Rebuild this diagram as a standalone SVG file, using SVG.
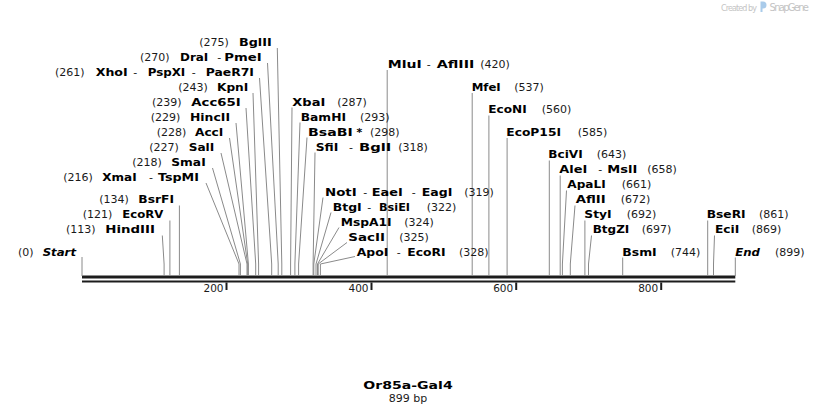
<svg xmlns="http://www.w3.org/2000/svg" width="818" height="415" viewBox="0 0 818 415">
<style>
.n{font-family:"DejaVu Sans",Verdana,sans-serif;font-weight:bold;font-size:11px;fill:#000}
.i{font-style:italic}
.p{font-family:"DejaVu Sans",Verdana,sans-serif;font-size:11px;fill:#1a1a1a}
.t{font-family:"DejaVu Sans",Verdana,sans-serif;font-size:10.5px;fill:#1a1a1a;text-anchor:end}
.l{stroke:#8a8a8a;stroke-width:1;fill:none}
.bb{fill:#1c1c1c}
.wm{font-family:"DejaVu Sans",Verdana,sans-serif;fill:#c4c4c4}
</style>
<rect width="818" height="415" fill="#fff"/>
<g id="watermark">
<text class="wm" x="721" y="10.5" font-size="8" textLength="36">Created by</text>
<path d="M760.5,1.5 h2.5 a3.5,3.5 0 0 1 0,7 h-0.5 v3.5 h-2 z" fill="#a9cbea"/>
<text class="wm" x="769.5" y="11" font-size="10" textLength="39.5">SnapGene</text>
</g>
<g id="backbone">
<rect class="bb" x="82" y="275.5" width="653.3" height="3"/>
<rect class="bb" x="82" y="280.5" width="653.3" height="2"/>
<g stroke="#1c1c1c" stroke-width="2">
<line x1="226.5" y1="282.5" x2="226.5" y2="290"/>
<line x1="371.5" y1="282.5" x2="371.5" y2="290"/>
<line x1="516.2" y1="282.5" x2="516.2" y2="290"/>
<line x1="661.2" y1="282.5" x2="661.2" y2="290"/>
</g>
<text class="t" x="223.5" y="292">200</text>
<text class="t" x="368.5" y="292">400</text>
<text class="t" x="513.2" y="292">600</text>
<text class="t" x="658.2" y="292">800</text>
</g>
<g id="connectors" class="l">
<path d="M277.3,48 L281.8,264 V276"/>
<path d="M267.5,63 L278.2,264 V276"/>
<path d="M259.5,78 L271.7,264 V276"/>
<path d="M253,93 L258.6,264 V276"/>
<path d="M246,108 L255.7,264 V276"/>
<path d="M236,123 L248.4,264 V276"/>
<path d="M229.5,138 L247.7,264 V276"/>
<path d="M221,153 L247,264 V276"/>
<path d="M212.5,168 L240.4,264 V276"/>
<path d="M206,183 L239,264 V276"/>
<path d="M179.4,205.5 V276"/>
<path d="M169.9,220.5 V276"/>
<path d="M162.3,235.5 L164.1,264 V276"/>
<path d="M82,257 V276"/>
<path d="M292,107.5 L290.6,264 V276"/>
<path d="M300,122.5 L294.9,264 V276"/>
<path d="M307,137.5 L298.6,264 V276"/>
<path d="M315,152.5 L313.1,264 V276"/>
<path d="M323,197.5 L313.8,264 V276"/>
<path d="M331,212.5 L316,264 V276"/>
<path d="M339,227.5 L317.5,264 V276"/>
<path d="M347,242.5 L318.2,264 V276"/>
<path d="M355,256.5 L320.4,264 V276"/>
<path d="M387.2,70 V276"/>
<path d="M472.2,93 V276"/>
<path d="M488.9,115.5 V276"/>
<path d="M507.1,138 V276"/>
<path d="M549.3,160.5 V276"/>
<path d="M560.2,175.5 V276"/>
<path d="M566.5,190.5 L562.4,264 V276"/>
<path d="M575,205.5 L570.3,264 V276"/>
<path d="M584.9,220.5 V276"/>
<path d="M591.5,235.5 L588.5,264 V276"/>
<path d="M622.7,257.5 V276"/>
<path d="M707.7,220.5 V276"/>
<path d="M714.5,235.5 L713.5,264 V276"/>
<path d="M735.3,257.5 V276"/>
</g>
<g id="BglII"><text class="p" x="199.3" y="45.5">(275)</text><text class="n" x="239" y="45.5" textLength="32.7" lengthAdjust="spacingAndGlyphs">BglII</text></g>
<g id="DraI"><text class="p" x="140" y="60.5">(270)</text><text class="n" x="180" y="60.5" textLength="28.3" lengthAdjust="spacingAndGlyphs">DraI</text><text class="p" x="217.3" y="60.5">-</text><text class="n" x="224.3" y="60.5" textLength="37.4" lengthAdjust="spacingAndGlyphs">PmeI</text></g>
<g id="XhoI"><text class="p" x="55" y="75.5">(261)</text><text class="n" x="95.7" y="75.5" textLength="32" lengthAdjust="spacingAndGlyphs">XhoI</text><text class="p" x="133.3" y="75.5">-</text><text class="n" x="147.7" y="75.5" textLength="37.6" lengthAdjust="spacingAndGlyphs">PspXI</text><text class="p" x="191.7" y="75.5">-</text><text class="n" x="205.7" y="75.5" textLength="48.3" lengthAdjust="spacingAndGlyphs">PaeR7I</text></g>
<g id="KpnI"><text class="p" x="178.3" y="90.5">(243)</text><text class="n" x="217" y="90.5" textLength="31.3" lengthAdjust="spacingAndGlyphs">KpnI</text></g>
<g id="Acc65I"><text class="p" x="152" y="105.5">(239)</text><text class="n" x="191.3" y="105.5" textLength="49.4" lengthAdjust="spacingAndGlyphs">Acc65I</text></g>
<g id="HincII"><text class="p" x="150.7" y="120.5">(229)</text><text class="n" x="190" y="120.5" textLength="40" lengthAdjust="spacingAndGlyphs">HincII</text></g>
<g id="AccI"><text class="p" x="156.7" y="135.5">(228)</text><text class="n" x="195" y="135.5" textLength="28.3" lengthAdjust="spacingAndGlyphs">AccI</text></g>
<g id="SalI"><text class="p" x="149.3" y="150.5">(227)</text><text class="n" x="188.7" y="150.5" textLength="25.6" lengthAdjust="spacingAndGlyphs">SalI</text></g>
<g id="SmaI"><text class="p" x="132.3" y="165.5">(218)</text><text class="n" x="171.3" y="165.5" textLength="34.4" lengthAdjust="spacingAndGlyphs">SmaI</text></g>
<g id="XmaI"><text class="p" x="63.3" y="180.5">(216)</text><text class="n" x="102.3" y="180.5" textLength="34.4" lengthAdjust="spacingAndGlyphs">XmaI</text><text class="p" x="149" y="180.5">-</text><text class="n" x="158" y="180.5" textLength="41" lengthAdjust="spacingAndGlyphs">TspMI</text></g>
<g id="BsrFI"><text class="p" x="99.3" y="203">(134)</text><text class="n" x="138.3" y="203" textLength="35.7" lengthAdjust="spacingAndGlyphs">BsrFI</text></g>
<g id="EcoRV"><text class="p" x="82.7" y="218">(121)</text><text class="n" x="122.3" y="218" textLength="41" lengthAdjust="spacingAndGlyphs">EcoRV</text></g>
<g id="HindIII"><text class="p" x="66" y="233">(113)</text><text class="n" x="105.3" y="233" textLength="49.7" lengthAdjust="spacingAndGlyphs">HindIII</text></g>
<g id="Start"><text class="p" x="18" y="255.5">(0)</text><text class="n i" x="42.7" y="255.5" textLength="33.3" lengthAdjust="spacingAndGlyphs">Start</text></g>
<g id="XbaI"><text class="n" x="292.3" y="105.5" textLength="33" lengthAdjust="spacingAndGlyphs">XbaI</text><text class="p" x="337.3" y="105.5">(287)</text></g>
<g id="BamHI"><text class="n" x="300.7" y="120.5" textLength="45.3" lengthAdjust="spacingAndGlyphs">BamHI</text><text class="p" x="360" y="120.5">(293)</text></g>
<g id="BsaBI"><text class="n" x="308" y="135.5" textLength="44.7" lengthAdjust="spacingAndGlyphs">BsaBI</text><text class="n" x="356.5" y="135.5">*</text><text class="p" x="370" y="135.5">(298)</text></g>
<g id="SfiI"><text class="n" x="315.7" y="150.5" textLength="22.6" lengthAdjust="spacingAndGlyphs">SfiI</text><text class="p" x="349" y="150.5">-</text><text class="n" x="359" y="150.5" textLength="32.3" lengthAdjust="spacingAndGlyphs">BglI</text><text class="p" x="398.3" y="150.5">(318)</text></g>
<g id="NotI"><text class="n" x="325" y="195.5" textLength="31.7" lengthAdjust="spacingAndGlyphs">NotI</text><text class="p" x="363.3" y="195.5">-</text><text class="n" x="371.7" y="195.5" textLength="31" lengthAdjust="spacingAndGlyphs">EaeI</text><text class="p" x="411.7" y="195.5">-</text><text class="n" x="421.7" y="195.5" textLength="30.6" lengthAdjust="spacingAndGlyphs">EagI</text><text class="p" x="464.3" y="195.5">(319)</text></g>
<g id="BtgI"><text class="n" x="332.7" y="210.5" textLength="29" lengthAdjust="spacingAndGlyphs">BtgI</text><text class="p" x="367.3" y="210.5">-</text><text class="n" x="379" y="210.5" textLength="31" lengthAdjust="spacingAndGlyphs">BsiEI</text><text class="p" x="426.7" y="210.5">(322)</text></g>
<g id="MspA1I"><text class="n" x="340.7" y="225.5" textLength="51" lengthAdjust="spacingAndGlyphs">MspA1I</text><text class="p" x="404.3" y="225.5">(324)</text></g>
<g id="SacII"><text class="n" x="348.3" y="240.5" textLength="36.7" lengthAdjust="spacingAndGlyphs">SacII</text><text class="p" x="399.3" y="240.5">(325)</text></g>
<g id="ApoI"><text class="n" x="356.7" y="255.5" textLength="31.6" lengthAdjust="spacingAndGlyphs">ApoI</text><text class="p" x="396.7" y="255.5">-</text><text class="n" x="407.3" y="255.5" textLength="38.4" lengthAdjust="spacingAndGlyphs">EcoRI</text><text class="p" x="459" y="255.5">(328)</text></g>
<g id="MluI"><text class="n" x="387.7" y="67.5" textLength="34" lengthAdjust="spacingAndGlyphs">MluI</text><text class="p" x="426.7" y="67.5">-</text><text class="n" x="436.7" y="67.5" textLength="37.6" lengthAdjust="spacingAndGlyphs">AflIII</text><text class="p" x="480.3" y="67.5">(420)</text></g>
<g id="MfeI"><text class="n" x="471.7" y="90.5" textLength="29" lengthAdjust="spacingAndGlyphs">MfeI</text><text class="p" x="514.3" y="90.5">(537)</text></g>
<g id="EcoNI"><text class="n" x="488.3" y="113" textLength="38.4" lengthAdjust="spacingAndGlyphs">EcoNI</text><text class="p" x="541.7" y="113">(560)</text></g>
<g id="EcoP15I"><text class="n" x="506.3" y="135.5" textLength="54.7" lengthAdjust="spacingAndGlyphs">EcoP15I</text><text class="p" x="577.7" y="135.5">(585)</text></g>
<g id="BciVI"><text class="n" x="548.3" y="158" textLength="34.4" lengthAdjust="spacingAndGlyphs">BciVI</text><text class="p" x="596.7" y="158">(643)</text></g>
<g id="AleI"><text class="n" x="559.3" y="173" textLength="28" lengthAdjust="spacingAndGlyphs">AleI</text><text class="p" x="598.3" y="173">-</text><text class="n" x="607.3" y="173" textLength="30" lengthAdjust="spacingAndGlyphs">MslI</text><text class="p" x="647.3" y="173">(658)</text></g>
<g id="ApaLI"><text class="n" x="567.3" y="188" textLength="38.4" lengthAdjust="spacingAndGlyphs">ApaLI</text><text class="p" x="621.7" y="188">(661)</text></g>
<g id="AflII"><text class="n" x="575.7" y="203" textLength="30" lengthAdjust="spacingAndGlyphs">AflII</text><text class="p" x="620.7" y="203">(672)</text></g>
<g id="StyI"><text class="n" x="584.3" y="218" textLength="27.4" lengthAdjust="spacingAndGlyphs">StyI</text><text class="p" x="626.7" y="218">(692)</text></g>
<g id="BtgZI"><text class="n" x="592.7" y="233" textLength="36.6" lengthAdjust="spacingAndGlyphs">BtgZI</text><text class="p" x="641.7" y="233">(697)</text></g>
<g id="BsmI"><text class="n" x="622.3" y="255.5" textLength="34.4" lengthAdjust="spacingAndGlyphs">BsmI</text><text class="p" x="670.7" y="255.5">(744)</text></g>
<g id="BseRI"><text class="n" x="706.7" y="218" textLength="39" lengthAdjust="spacingAndGlyphs">BseRI</text><text class="p" x="759" y="218">(861)</text></g>
<g id="EciI"><text class="n" x="715" y="233" textLength="24.3" lengthAdjust="spacingAndGlyphs">EciI</text><text class="p" x="751.7" y="233">(869)</text></g>
<g id="End"><text class="n i" x="735.3" y="255.5" textLength="24.7" lengthAdjust="spacingAndGlyphs">End</text><text class="p" x="775" y="255.5">(899)</text></g>
<g id="title">
<text class="n" x="363.3" y="388.5" font-size="12.5" textLength="89.4" lengthAdjust="spacingAndGlyphs">Or85a-Gal4</text>
<text class="p" x="408" y="402" text-anchor="middle">899 bp</text>
</g>
</svg>
